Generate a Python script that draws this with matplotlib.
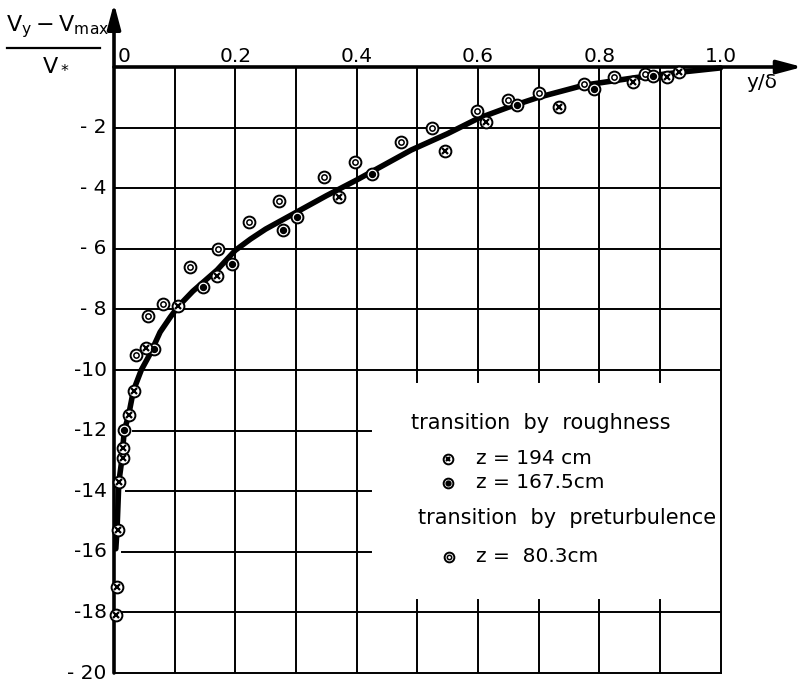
import matplotlib.pyplot as plt

# velocity defect profile (V_y - V_max) / V_* against y/delta

# transition by roughness, z = 194 cm  (circle with cross)
z194_x = [0.003, 0.005, 0.007, 0.009, 0.015, 0.015, 0.024, 0.033, 0.053, 0.106,
          0.170, 0.371, 0.546, 0.613, 0.734, 0.856, 0.911, 0.932]
z194_y = [-18.1, -17.16, -15.27, -13.7, -12.89, -12.56, -11.5, -10.68, -9.29, -7.88,
          -6.91, -4.30, -2.78, -1.82, -1.31, -0.49, -0.34, -0.16]

# transition by roughness, z = 167.5 cm  (circle with dot)
z1675_x = [0.017, 0.066, 0.147, 0.195, 0.278, 0.301, 0.425, 0.665, 0.791, 0.889]
z1675_y = [-11.98, -9.32, -7.27, -6.51, -5.39, -4.96, -3.54, -1.26, -0.74, -0.29]

# transition by preturbulence, z = 80.3 cm  (double circle)
z803_x = [0.036, 0.056, 0.081, 0.125, 0.172, 0.222, 0.272, 0.346, 0.398, 0.473,
          0.524, 0.598, 0.649, 0.701, 0.775, 0.825, 0.876]
z803_y = [-9.5, -8.23, -7.82, -6.6, -6.0, -5.1, -4.43, -3.63, -3.14, -2.46,
          -2.02, -1.45, -1.09, -0.87, -0.56, -0.34, -0.23]

# fitted curve
curve_x = [0.003, 0.005, 0.008, 0.012, 0.017, 0.024, 0.032, 0.045, 0.060, 0.076,
           0.093, 0.106, 0.13, 0.15, 0.17, 0.2, 0.225, 0.25, 0.3, 0.35,
           0.4, 0.49, 0.55, 0.6, 0.65, 0.7, 0.775, 0.86, 0.93, 1.0]
curve_y = [-15.9, -15.27, -13.7, -13.1, -12.0, -11.5, -10.68, -10.0, -9.45, -8.75,
           -8.25, -7.9, -7.4, -7.05, -6.7, -6.05, -5.68, -5.35, -4.8, -4.25,
           -3.73, -2.74, -2.2, -1.7, -1.33, -1.0, -0.6, -0.35, -0.18, -0.03]

x_ticks = [0, 0.2, 0.4, 0.6, 0.8, 1.0]
x_labels = ["0", "0.2", "0.4", "0.6", "0.8", "1.0"]
y_ticks = [-2, -4, -6, -8, -10, -12, -14, -16, -18, -20]
y_labels = ["- 2", "- 4", "- 6", "- 8", "-10", "-12", "-14", "-16", "-18", "- 20"]

grid_x = [0.1, 0.2, 0.3, 0.4, 0.5, 0.6, 0.7, 0.8, 0.9]
grid_y = [-2, -4, -6, -8, -10, -12, -14, -16, -18]
# where each horizontal grid line starts (lines stop at the curve near the wall)
grid_y_start = [0, 0, 0, 0, 0, 0.032, 0.02, 0.013, 0.01]

# blank area kept for the legend
box_x0, box_y0, box_y1 = 0.423, -10.4, -17.6

fig = plt.figure(figsize=(8.01, 6.83), dpi=100)
ax = fig.add_axes([114 / 801, 1 - 673 / 683, 606.5 / 801, 606 / 683])
ax.set_xlim(0, 1)
ax.set_ylim(-20, 0)
ax.axis("off")

glw = 1.4
for x in grid_x:
    if x > box_x0:
        ax.plot([x, x], [0, box_y0], color="k", lw=glw, zorder=1)
        ax.plot([x, x], [box_y1, -20], color="k", lw=glw, zorder=1)
    else:
        ax.plot([x, x], [0, -20], color="k", lw=glw, zorder=1)
for y, x0 in zip(grid_y, grid_y_start):
    x1 = box_x0 if box_y1 < y < box_y0 else 1.0
    ax.plot([x0, x1], [y, y], color="k", lw=glw, zorder=1)
ax.plot([1, 1], [0, -20], color="k", lw=glw, zorder=1, clip_on=False)
ax.plot([0, 1], [-20, -20], color="k", lw=glw, zorder=1, clip_on=False)

# axes with arrows
arrow = dict(arrowstyle="-|>,head_length=0.75,head_width=0.2", lw=2.6, color="k",
             mutation_scale=20, shrinkA=0, shrinkB=0)
ax.annotate("", xy=(1.135, 0), xytext=(0, 0), arrowprops=arrow, annotation_clip=False)
ax.annotate("", xy=(0, 2.1), xytext=(0, -20), arrowprops=arrow, annotation_clip=False)

# curve
ax.plot(curve_x, curve_y, color="k", lw=4, solid_capstyle="round",
        solid_joinstyle="round", zorder=3, clip_on=False)


def mark(xs, ys, kind, ms=8.5):
    ax.plot(xs, ys, "o", ms=ms, mfc="white", mec="k", mew=1.4, ls="none",
            zorder=4, clip_on=False)
    if kind == "x":
        ax.plot(xs, ys, "x", ms=ms * 0.45, mec="k", mew=1.6, ls="none",
                zorder=5, clip_on=False)
    elif kind == "dot":
        ax.plot(xs, ys, "o", ms=ms * 0.5, mfc="k", mec="k", ls="none",
                zorder=5, clip_on=False)
    else:
        ax.plot(xs, ys, "o", ms=ms * 0.45, mfc="white", mec="k", mew=1.1,
                ls="none", zorder=5, clip_on=False)


mark(z803_x, z803_y, "ring")
mark(z1675_x, z1675_y, "dot")
mark(z194_x, z194_y, "x")

# tick labels
fs = 14.5
for x, lab in zip(x_ticks, x_labels):
    if x == 0:
        ax.text(0.006, 0.15, lab, ha="left", va="baseline", fontsize=fs)
    else:
        ax.text(x, 0.15, lab, ha="center", va="baseline", fontsize=fs)
for y, lab in zip(y_ticks, y_labels):
    ax.text(-0.012, y, lab, ha="right", va="center", fontsize=fs)

ax.text(1.068, -0.5, "y/δ", ha="center", va="center", fontsize=fs)

# y label as a fraction
fig.text(58 / 801, 1 - 27 / 683, r"$\mathregular{V_y - V_{max}}$", ha="center",
         va="center", fontsize=16)
fig.add_artist(plt.Line2D([7 / 801, 100 / 801], [1 - 48 / 683, 1 - 48 / 683],
                          color="k", lw=1.6))
fig.text(56 / 801, 1 - 64 / 683, r"$\mathregular{V_*}$", ha="center", va="center",
         fontsize=16)

# legend
ax.text(0.489, -11.74, "transition  by  roughness", ha="left", va="center", fontsize=15)
mark([0.550], [-12.93], "x", ms=7)
ax.text(0.597, -12.93, "z = 194 cm", ha="left", va="center", fontsize=14.5)
mark([0.550], [-13.72], "dot", ms=7)
ax.text(0.597, -13.72, "z = 167.5cm", ha="left", va="center", fontsize=14.5)
ax.text(0.501, -14.88, "transition  by  preturbulence", ha="left", va="center", fontsize=15)
mark([0.552], [-16.17], "ring", ms=7)
ax.text(0.597, -16.17, "z =  80.3cm", ha="left", va="center", fontsize=14.5)

fig.savefig("out.png", dpi=100, facecolor="white")
